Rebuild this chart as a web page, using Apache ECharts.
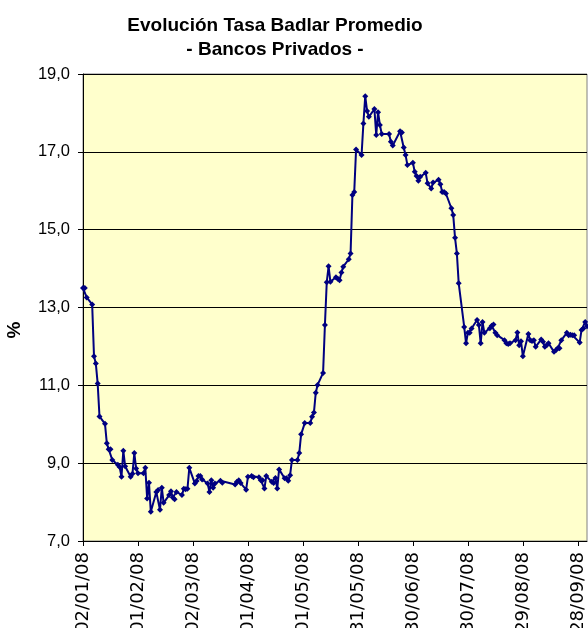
<!DOCTYPE html>
<html>
<head>
<meta charset="utf-8">
<script src="https://cdn.jsdelivr.net/npm/echarts@6/dist/echarts.min.js"></script>
<style>
	html, body { margin: 0; padding: 0; background: #fff; }
	#chart { width: 588px; height: 628px; }
</style>
</head>
<body>
<div id="chart"></div>
<script>
// fechas (dd/mm/yy) y tasa badlar promedio, bancos privados
const fechas = [
	"02/01/08", "03/01/08", "04/01/08", "07/01/08", "08/01/08", "09/01/08", "10/01/08", "11/01/08",
	"14/01/08", "15/01/08", "16/01/08", "17/01/08", "18/01/08", "21/01/08", "22/01/08", "23/01/08",
	"24/01/08", "25/01/08", "28/01/08", "29/01/08", "30/01/08", "31/01/08", "01/02/08", "04/02/08",
	"05/02/08", "06/02/08", "07/02/08", "08/02/08", "11/02/08", "12/02/08", "13/02/08", "14/02/08",
	"15/02/08", "18/02/08", "19/02/08", "20/02/08", "21/02/08", "22/02/08", "25/02/08", "26/02/08",
	"27/02/08", "28/02/08", "29/02/08", "03/03/08", "04/03/08", "05/03/08", "06/03/08", "07/03/08",
	"10/03/08", "11/03/08", "12/03/08", "13/03/08", "14/03/08", "17/03/08", "18/03/08", "25/03/08",
	"26/03/08", "27/03/08", "28/03/08", "31/03/08", "01/04/08", "03/04/08", "04/04/08", "07/04/08",
	"08/04/08", "09/04/08", "10/04/08", "11/04/08", "14/04/08", "15/04/08", "16/04/08", "17/04/08",
	"18/04/08", "21/04/08", "22/04/08", "23/04/08", "24/04/08", "25/04/08", "28/04/08", "29/04/08",
	"30/04/08", "02/05/08", "05/05/08", "06/05/08", "07/05/08", "08/05/08", "09/05/08", "12/05/08",
	"13/05/08", "14/05/08", "15/05/08", "16/05/08", "19/05/08", "20/05/08", "21/05/08", "22/05/08",
	"23/05/08", "26/05/08", "27/05/08", "28/05/08", "29/05/08", "30/05/08", "02/06/08", "03/06/08",
	"04/06/08", "05/06/08", "06/06/08", "09/06/08", "10/06/08", "11/06/08", "12/06/08", "13/06/08",
	"17/06/08", "18/06/08", "19/06/08", "23/06/08", "24/06/08", "25/06/08", "26/06/08", "27/06/08",
	"30/06/08", "01/07/08", "02/07/08", "03/07/08", "04/07/08", "07/07/08", "08/07/08", "10/07/08",
	"11/07/08", "14/07/08", "15/07/08", "16/07/08", "17/07/08", "18/07/08", "21/07/08", "22/07/08",
	"23/07/08", "24/07/08", "25/07/08", "28/07/08", "29/07/08", "30/07/08", "31/07/08", "01/08/08",
	"04/08/08", "05/08/08", "06/08/08", "07/08/08", "08/08/08", "11/08/08", "12/08/08", "13/08/08",
	"14/08/08", "15/08/08", "19/08/08", "20/08/08", "21/08/08", "22/08/08", "25/08/08", "26/08/08",
	"27/08/08", "28/08/08", "29/08/08", "01/09/08", "02/09/08", "03/09/08", "04/09/08", "05/09/08",
	"08/09/08", "09/09/08", "10/09/08", "11/09/08", "12/09/08", "15/09/08", "16/09/08", "17/09/08",
	"18/09/08", "19/09/08", "22/09/08", "23/09/08", "24/09/08", "25/09/08", "26/09/08", "29/09/08",
	"30/09/08", "01/10/08", "02/10/08", "03/10/08"
];

const tasas = [
	13.50, 13.50, 13.26, 13.08, 11.75, 11.56, 11.05, 10.20,
	10.01, 9.51, 9.36, 9.36, 9.08, 8.96, 8.90, 8.65,
	9.32, 8.92, 8.65, 8.73, 9.26, 8.86, 8.74, 8.74,
	8.88, 8.09, 8.50, 7.75, 8.26, 8.31, 7.80, 8.37,
	7.98, 8.18, 8.28, 8.12, 8.07, 8.26, 8.18, 8.34,
	8.33, 8.34, 8.88, 8.48, 8.54, 8.67, 8.67, 8.58,
	8.48, 8.26, 8.56, 8.37, 8.48, 8.55, 8.50, 8.45,
	8.52, 8.56, 8.49, 8.32, 8.65, 8.67, 8.64, 8.64,
	8.56, 8.56, 8.35, 8.67, 8.52, 8.49, 8.62, 8.35,
	8.84, 8.61, 8.61, 8.55, 8.69, 9.08, 9.08, 9.26,
	9.74, 10.03, 10.03, 10.19, 10.30, 10.81, 11.01, 11.32,
	12.55, 13.65, 14.06, 13.66, 13.78, 13.74, 13.70, 13.90,
	14.05, 14.24, 14.39, 15.89, 15.97, 17.06, 16.92, 17.73,
	18.43, 18.05, 17.90, 18.10, 17.43, 18.02, 17.69, 17.46,
	17.46, 17.26, 17.16, 17.53, 17.50, 17.11, 16.92, 16.66,
	16.72, 16.49, 16.38, 16.26, 16.36, 16.46, 16.19, 16.06,
	16.21, 16.28, 16.17, 15.97, 15.97, 15.93, 15.55, 15.38,
	14.79, 14.39, 13.62, 12.50, 12.08, 12.35, 12.35, 12.46,
	12.68, 12.55, 12.08, 12.63, 12.35, 12.47, 12.53, 12.56,
	12.35, 12.29, 12.16, 12.08, 12.06, 12.08, 12.16, 12.36,
	12.03, 12.13, 11.75, 12.32, 12.16, 12.14, 12.16, 11.99,
	12.18, 12.12, 11.99, 12.03, 12.08, 11.86, 11.90, 11.95,
	11.95, 12.16, 12.35, 12.29, 12.30, 12.29, 12.29, 12.10,
	12.42, 12.46, 12.63, 12.52
];

const yTicks = [7, 9, 11, 13, 15, 17, 19];

const DIA = 86400000;
const INICIO = Date.UTC(2008, 0, 2);

function diaDesdeInicio(s) {
	const [d, m, y] = s.split("/").map(Number);
	return Math.round((Date.UTC(2000 + y, m - 1, d) - INICIO) / DIA);
}

function etiquetaFecha(v) {
	const f = new Date(INICIO + v * DIA);
	const dd = String(f.getUTCDate()).padStart(2, "0");
	const mm = String(f.getUTCMonth() + 1).padStart(2, "0");
	const yy = String(f.getUTCFullYear() % 100).padStart(2, "0");
	return dd + "/" + mm + "/" + yy;
}

const dias = fechas.map(diaDesdeInicio);
const ultimoDia = dias[dias.length - 1];

const chart = echarts.init(document.getElementById("chart"));
chart.setOption({
	animation: false,
	backgroundColor: "#ffffff",
	textStyle: {
		fontFamily: "Liberation Sans, Arial, sans-serif"
	},
	title: {
		text: "Evolución Tasa Badlar Promedio\n- Bancos Privados -",
		left: 270,
		top: 9,
		textAlign: "center",
		textStyle: {
			fontSize: 19,
			fontWeight: "bold",
			color: "#000",
			lineHeight: 24,
			fontFamily: "Liberation Sans, Arial, sans-serif"
		}
	},
	graphic: [
		{
			type: "text",
			x: 15,
			y: 330,
			rotation: Math.PI / 2,
			style: {
				text: "%",
				fill: "#000",
				font: "bold 19px 'Liberation Sans', Arial, sans-serif",
				textAlign: "center",
				textVerticalAlign: "middle"
			}
		}
	],
	grid: {
		left: 83,
		top: 74,
		right: 1,
		bottom: 87,
		outerBoundsMode: "none",
		containLabel: false,
		show: true,
		backgroundColor: "#ffffcc",
		borderColor: "#808080",
		borderWidth: 1
	},
	xAxis: {
		type: "value",
		min: 0,
		max: ultimoDia,
		interval: 30,
		axisLine: { onZero: false, lineStyle: { color: "#000", width: 1 } },
		axisTick: { show: true, length: 5, lineStyle: { color: "#000" } },
		splitLine: { show: false },
		axisLabel: {
			rotate: 90,
			margin: 11,
			fontSize: 18,
			fontFamily: "DejaVu Sans",
			color: "#000",
			showMaxLabel: false,
			formatter: function (v) {
				return v % 30 === 0 ? etiquetaFecha(v) : "";
			}
		}
	},
	yAxis: {
		type: "value",
		min: yTicks[0],
		max: yTicks[yTicks.length - 1],
		interval: 2,
		axisLine: { show: true, lineStyle: { color: "#000", width: 1 } },
		axisTick: { show: true, length: 5, lineStyle: { color: "#000" } },
		splitLine: { show: true, lineStyle: { color: "#000", width: 1 } },
		axisLabel: {
			fontSize: 16.5,
			color: "#000",
			margin: 13,
			formatter: function (v) {
				return v.toFixed(1).replace(".", ",");
			}
		}
	},
	series: [
		{
			type: "line",
			data: dias.map((d, i) => [d, tasas[i]]),
			symbol: "diamond",
			symbolSize: 6,
			showSymbol: true,
			showAllSymbol: true,
			lineStyle: { color: "#000080", width: 2 },
			itemStyle: { color: "#000080" }
		}
	]
});
</script>
</body>
</html>
